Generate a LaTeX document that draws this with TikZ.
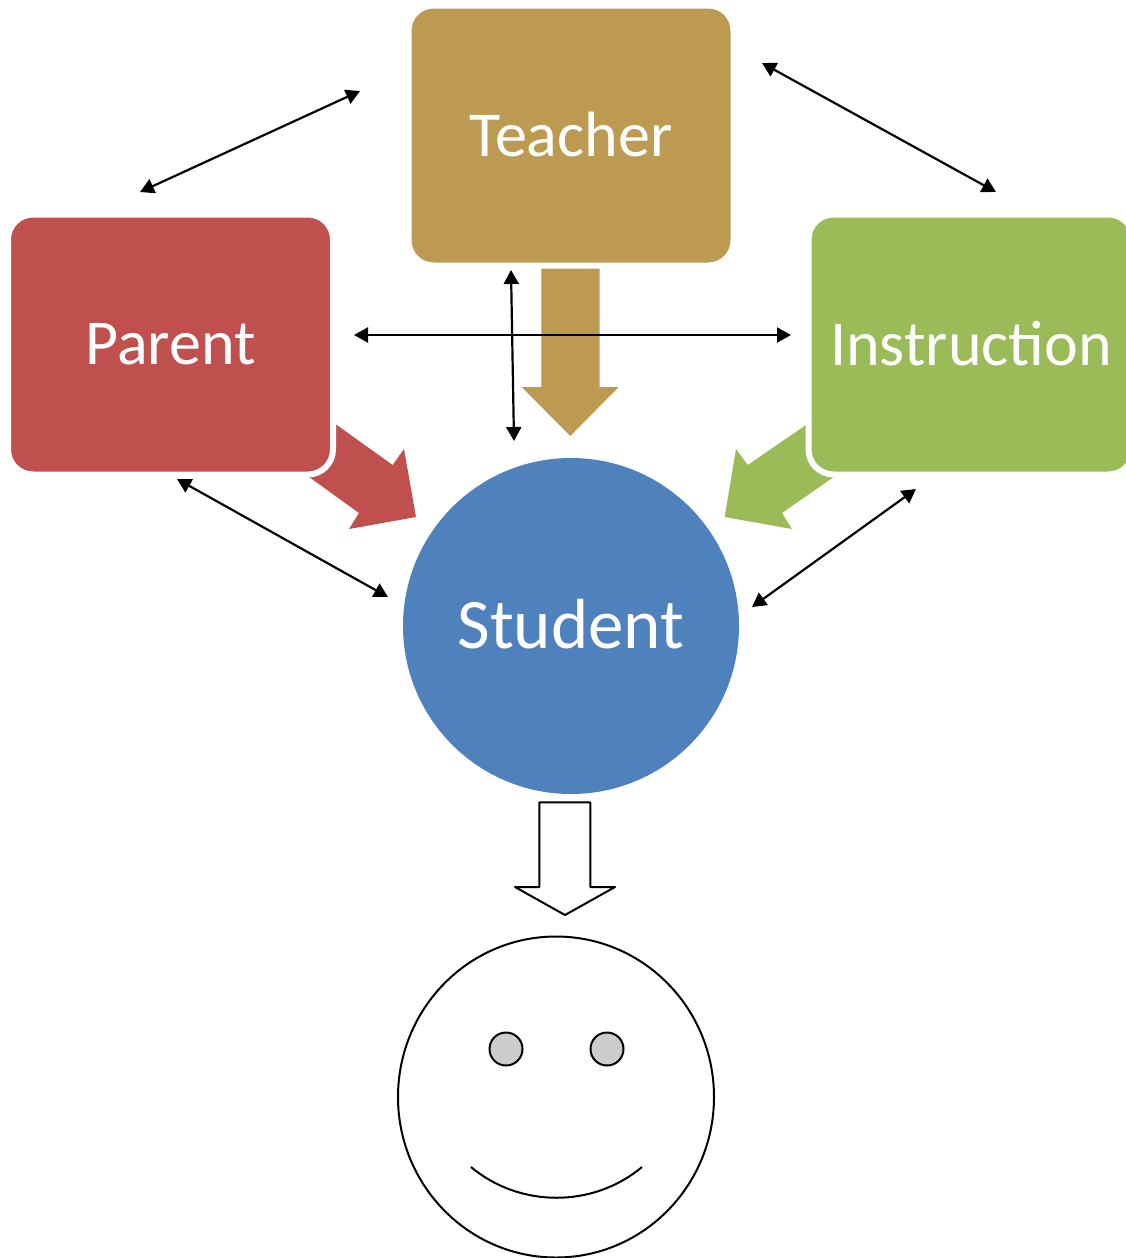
\documentclass[tikz,border=0pt]{standalone}
\usepackage{fontspec}
\setmainfont{Carlito}
\usetikzlibrary{arrows.meta,shapes.geometric}
\definecolor{parentred}{HTML}{C0504D}
\definecolor{teachergold}{HTML}{BD9A52}
\definecolor{instrgreen}{HTML}{9BBB59}
\definecolor{studentblue}{HTML}{4F81BD}
\definecolor{eyegray}{HTML}{CCCCCC}
\tikzset{
    box/.style={draw=white,line width=6pt,rounded corners=25pt,minimum width=325pt,minimum height=260pt,inner sep=0pt,text=white,font=\fontsize{64}{70}\selectfont},
    link/.style={<->,line width=2.2pt},
    eye/.style={circle,draw=black,line width=2pt,fill=eyegray,minimum size=33pt,inner sep=0pt}
}
\begin{document}
\begin{tikzpicture}[x=1pt,y=-1pt,>={Triangle[length=14pt,width=15pt]}]
        \useasboundingbox (0,0) rectangle (1125,1258);
        % block arrows go first, the boxes cut their tails
        \fill[parentred] (306,403) -- (392.7,465) -- (404,449) -- (416,517) -- (349,529) -- (359,513) -- (280,456) -- cycle;
        \fill[instrgreen] (835,405) -- (747.7,465) -- (736,449) -- (724.7,517) -- (792,529) -- (782,513) -- (861,458) -- cycle;
        \fill[teachergold] (541.3,268) -- (599.7,268) -- (599.7,387) -- (618.7,387) -- (570.3,436) -- (521.7,387) -- (541.3,387) -- cycle;
        \node[box,fill=teachergold] (teacher) at (571,135.5) {\raisebox{2pt}{Teacher}};
        \node[box,fill=parentred] (parent) at (170.5,344.5) {\raisebox{1pt}{Parent}};
        \node[box,fill=instrgreen] (instr) at (971,344.5) {\raisebox{2pt}{Instruction}};
        \node[circle,fill=studentblue,minimum size=336pt,inner sep=0pt,text=white,font=\fontsize{71}{78}\selectfont] (student) at (571,626) {\raisebox{4pt}{Student}};
        % free ends of the double arrows
        \coordinate (pt) at (360,91);
        \coordinate (tp) at (140,192);
        \coordinate (ti) at (762,63);
        \coordinate (it) at (996,192);
        \coordinate (pi) at (354,335);
        \coordinate (ip) at (791,335);
        \coordinate (ts) at (511,270);
        \coordinate (st) at (514,441);
        \coordinate (ps) at (177,479);
        \coordinate (sp) at (388,597);
        \coordinate (si) at (752,607);
        \coordinate (is) at (916,489);
        \draw[link] (pt) -- (tp);
        \draw[link] (ti) -- (it);
        \draw[link] (pi) -- (ip);
        \draw[link] (ts) -- (st);
        \draw[link] (ps) -- (sp);
        \draw[link] (si) -- (is);
        \draw[line width=2pt,line join=round,fill=white] (539.3,802.3) -- (590.3,802.3) -- (590.3,887) -- (615,887) -- (565,915) -- (515,887) -- (539.3,887) -- cycle;
        % face
        \node[ellipse,draw=black,line width=2pt,minimum width=316pt,minimum height=321pt,inner sep=0pt] (face) at (556,1097) {};
        \node[eye] (lefteye) at (506,1049) {};
        \node[eye] (righteye) at (607,1049) {};
        \draw[line width=2pt] (471,1167) .. controls (520,1208) and (593,1208) .. (642,1167);
    \end{tikzpicture}
\end{document}
